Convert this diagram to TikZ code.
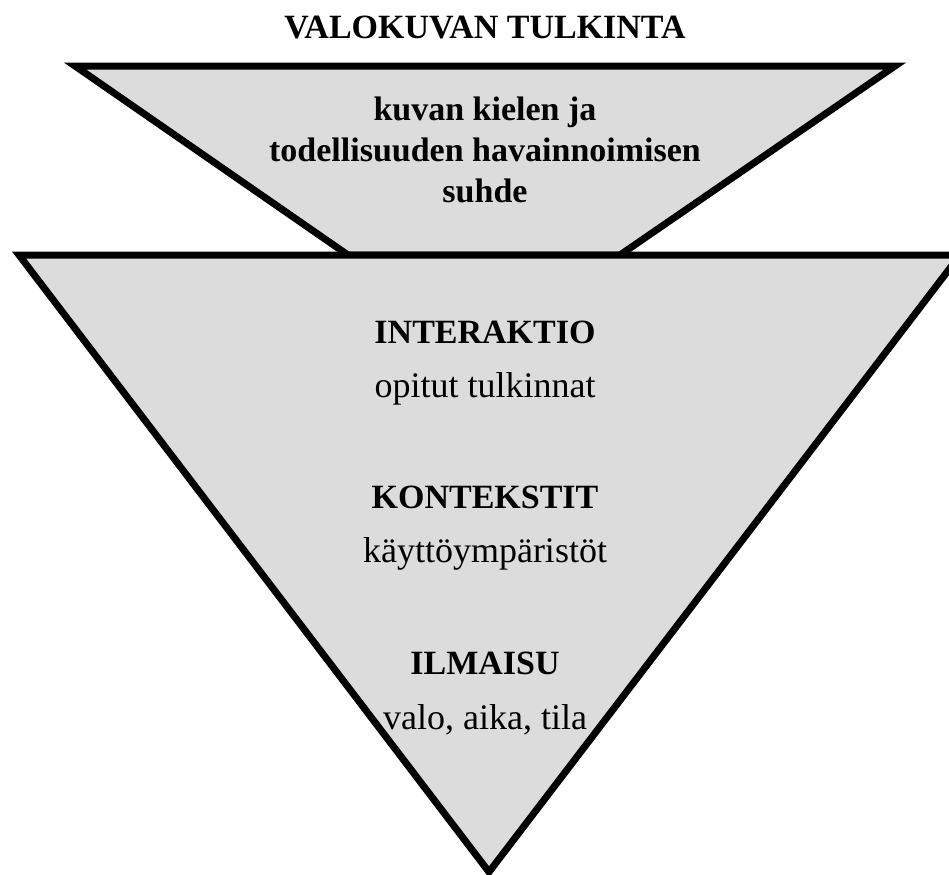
\documentclass[tikz,border=0pt]{standalone}
\usepackage{fontspec}
\setmainfont{Liberation Serif}
\usepackage{tikz}
\definecolor{funnelgray}{RGB}{220,220,220}
\tikzstyle{funnel} = [draw=black, fill=funnelgray, line width=3.5pt,
    line join=miter]
\tikzstyle{heading} = [font=\fontsize{17}{20.3}\selectfont\bfseries,
    inner sep=0pt, anchor=base]
\tikzstyle{caption} = [font=\fontsize{18}{20.3}\selectfont,
    inner sep=0pt, anchor=base]

\begin{document}
\begin{tikzpicture}[x=0.5pt, y=-0.5pt]
\useasboundingbox (0,0) rectangle (949,874);
\begin{scope}
    %shapes
    \draw[funnel] (75,66) -- (895,66) -- (620,255) -- (348,255) -- cycle;
    \draw[funnel] (19,255) -- (960,255) -- (489,872) -- cycle;
    %texts
    \node[heading] (title) at (485,38) {VALOKUVAN TULKINTA};
    \node[heading, anchor=center, align=center] (relation) at (485,150)
        {kuvan kielen ja\\todellisuuden havainnoimisen\\suhde};
    \node[heading] (interaction) at (485,343) {INTERAKTIO};
    \node[caption] (learned) at (485,397) {opitut tulkinnat};
    \node[heading] (contexts) at (485,508) {KONTEKSTIT};
    \node[caption] (uses) at (485,562) {käyttöympäristöt};
    \node[heading] (expression) at (485,674) {ILMAISU};
    \node[caption] (light) at (485,729) {valo, aika, tila};
\end{scope}
\end{tikzpicture}
\end{document}
